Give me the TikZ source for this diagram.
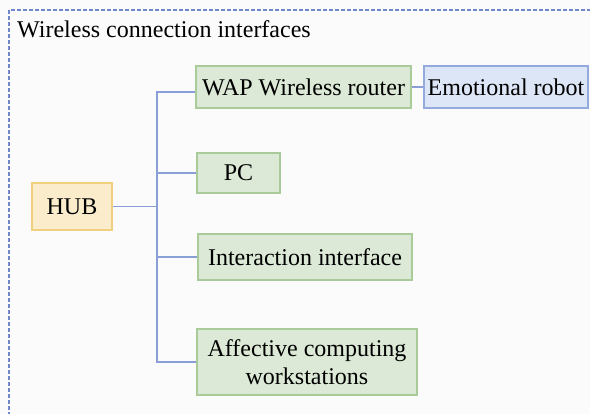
\documentclass[tikz,border=0pt]{standalone}
\usepackage{fontspec}
\setmainfont{Liberation Serif}
\definecolor{bgc}{HTML}{FBFBFB}
\definecolor{gfill}{HTML}{DCE9D6}
\definecolor{gdraw}{HTML}{A9CB9A}
\definecolor{ofill}{HTML}{FBEDCC}
\definecolor{odraw}{HTML}{F0D07E}
\definecolor{bfill}{HTML}{DDE6F6}
\definecolor{bdraw}{HTML}{94A9DD}
\definecolor{linec}{HTML}{8A9ED8}
\definecolor{framec}{HTML}{6F86CC}
\tikzset{
  x=1pt, y=-1pt,
  box/.style={rectangle, draw, line width=1.2pt, inner sep=0pt, font=\fontsize{24}{28}\selectfont, align=center},
  gbox/.style={box, fill=gfill, draw=gdraw},
  obox/.style={box, fill=ofill, draw=odraw},
  bbox/.style={box, fill=bfill, draw=bdraw},
  conn/.style={draw=linec, line width=1.1pt},
}
\begin{document}
\begin{tikzpicture}
\fill[bgc] (0,0) rectangle (590,414);
\useasboundingbox (0,0) rectangle (590,414);
\begin{scope}
\clip (0,0) rectangle (590,414);
\draw[framec, line width=1.1pt, dash pattern=on 4pt off 2pt] (9,10) rectangle (620,440);
\end{scope}
\node[anchor=base west, font=\fontsize{24}{28}\selectfont, inner sep=0pt] (title) at (17,37.5) {Wireless connection interfaces};
\node[gbox, minimum width=215pt, minimum height=42pt] (wap) at (303.5,87) {WAP Wireless router};
\node[bbox, minimum width=164pt, minimum height=42pt] (robot) at (506,87) {Emotional robot};
\node[gbox, minimum width=83pt, minimum height=40pt] (pc) at (238.5,173) {PC};
\node[obox, minimum width=80pt, minimum height=47pt] (hub) at (72,206.5) {HUB};
\node[gbox, minimum width=214pt, minimum height=46pt] (int) at (305,257) {Interaction interface};
\node[gbox, minimum width=220pt, minimum height=66pt] (aff) at (307,362) {Affective computing\\workstations};
\coordinate (j) at (157,206.5);
\draw[conn] (hub.east) -- (j);
\draw[conn] (j) |- ([yshift=-5pt]wap.west);
\draw[conn] (j) |- (pc.west);
\draw[conn] (j) |- (int.west);
\draw[conn] (j) |- (aff.west);
\draw[conn] (wap.east) -- (robot.west);
\end{tikzpicture}
\end{document}
